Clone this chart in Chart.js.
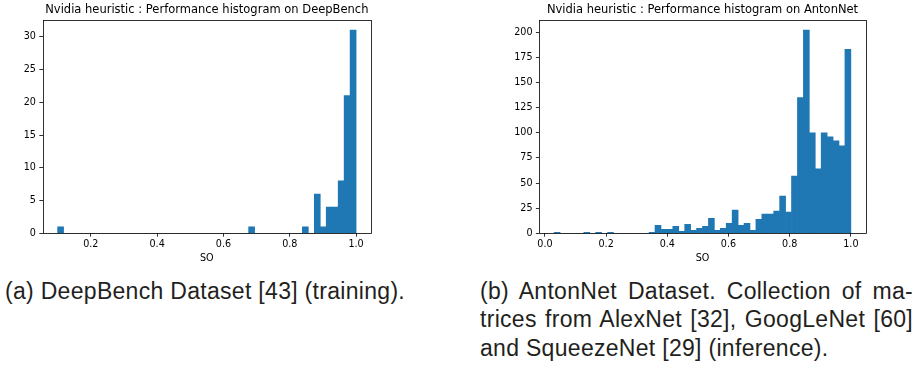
<!DOCTYPE html>
<html><head><meta charset="utf-8">
<script src="https://cdn.jsdelivr.net/npm/chart.js@4"></script>
<style>
html,body{margin:0;padding:0;background:#fff;}
body{width:919px;height:366px;position:relative;overflow:hidden;}
canvas{position:absolute;top:0;}
#ca{left:0;}
#cb{left:490px;}
.cap{position:absolute;font-family:"Liberation Sans",Arial,Helvetica,sans-serif;font-size:23px;letter-spacing:0.3px;color:#231f20;white-space:nowrap;}
#capA{left:5px;top:279.3px;line-height:24px;}
#capB{left:480px;top:276.6px;width:433px;line-height:28.7px;}
#capB div{white-space:nowrap;}
#capB .j{text-align:justify;text-align-last:justify;white-space:normal;}
</style></head><body>
<canvas id="ca" width="380" height="270"></canvas>
<canvas id="cb" width="380" height="270"></canvas>
<div class="cap" id="capA">(a) DeepBench Dataset [43] (training).</div>
<div class="cap" id="capB">
<div class="j">(b) AntonNet Dataset. Collection of ma-</div>
<div class="j">trices from AlexNet [32], GoogLeNet [60]</div>
<div>and SqueezeNet [29] (inference).</div>
</div>
<script>
// ---- data ----
const deepBenchTitle = "Nvidia heuristic : Performance histogram on DeepBench";
const antonNetTitle = "Nvidia heuristic : Performance histogram on AntonNet";
const xAxisLabel = "SO";

// DeepBench: 50 bins starting at 0.10, width 0.018
const deepBenchBinStart = 0.10;
const deepBenchBinWidth = 0.018;
const deepBenchCounts = [
  1,0,0,0,0,0,0,0,0,0,
  0,0,0,0,0,0,0,0,0,0,
  0,0,0,0,0,0,0,0,0,0,
  0,0,1,0,0,0,0,0,0,0,
  0,1,0,6,1,4,4,8,21,31
];
const deepBenchXTicks = [0.2, 0.4, 0.6, 0.8, 1.0];
const deepBenchYTicks = [0, 5, 10, 15, 20, 25, 30];

// AntonNet: 50 bins starting at 0.03, width 0.0194
const antonNetBinStart = 0.03;
const antonNetBinWidth = 0.0194;
const antonNetCounts = [
  1,0,0,0,0,1,0,1,0,1,
  0,0,0,0,0,0,1,8,4,4,
  7,2,9,3,5,7,15,3,5,10,
  23,8,10,3,14,19,19,22,37,21,
  57,135,202,100,64,100,96,92,87,183
];
const antonNetXTicks = [0.0, 0.2, 0.4, 0.6, 0.8, 1.0];
const antonNetYTicks = [0, 25, 50, 75, 100, 125, 150, 175, 200];

// ---- drawing ----
const BAR = '#1f77b4';
const TICK_FONT = {family: 'DejaVu Sans', size: 9.6, lineHeight: 1.2};

const framePlugin = {
  id: 'frame',
  afterDraw(chart) {
    const a = chart.chartArea, c = chart.ctx;
    c.save();
    c.strokeStyle = '#000';
    c.lineWidth = 0.8;
    c.strokeRect(Math.round(a.left) + 0.5, Math.round(a.top) + 0.5,
                 Math.round(a.right) - Math.round(a.left), Math.round(a.bottom) - Math.round(a.top));
    c.restore();
  }
};

function makeHist(id, title, binStart, binWidth, counts, xTicks, yTicks, opts) {
  const n = counts.length;
  const lo = binStart, hi = binStart + binWidth * n;
  const margin = (hi - lo) * 0.05;
  const ymax = Math.max(...counts) * 1.05;
  const pts = counts.map((v, i) => ({x: binStart + binWidth * (i + 0.5), y: v}));
  new Chart(document.getElementById(id), {
    type: 'bar',
    data: {datasets: [{data: pts, backgroundColor: BAR, borderWidth: 0,
                       barPercentage: 1.0, categoryPercentage: 1.0}]},
    options: {
      responsive: false, animation: false, devicePixelRatio: 1,
      layout: {padding: {left: 0, right: opts.rightPad, top: 0, bottom: 0}},
      plugins: {
        legend: {display: false}, tooltip: {enabled: false},
        title: {display: true, text: title, fullSize: false, color: '#000',
                font: {family: 'DejaVu Sans', size: 11.5, weight: 'normal', lineHeight: 1.2},
                padding: {top: 3.1, bottom: 3.1}}
      },
      scales: {
        x: {
          type: 'linear', offset: false, min: lo - margin, max: hi + margin,
          grid: {display: true, drawOnChartArea: false, drawTicks: true, tickLength: 3.4,
                 color: '#000', lineWidth: 0.8, offset: false},
          border: {display: false},
          ticks: {autoSkip: false, maxRotation: 0, padding: 2, color: '#000', font: TICK_FONT,
                  callback: v => v.toFixed(1)},
          afterBuildTicks: s => { s.ticks = xTicks.map(v => ({value: v})); },
          afterFit: s => { s.height = 36.7; },
          title: {display: true, text: xAxisLabel, color: '#000', font: TICK_FONT,
                  padding: {top: 0, bottom: 6.2}}
        },
        y: {
          type: 'linear', min: 0, max: ymax,
          grid: {display: true, drawOnChartArea: false, drawTicks: true, tickLength: 3.4,
                 color: '#000', lineWidth: 0.8},
          border: {display: false},
          ticks: {autoSkip: false, padding: 3.4, color: '#000', font: TICK_FONT,
                  callback: v => String(v)},
          afterBuildTicks: s => { s.ticks = yTicks.map(v => ({value: v})); },
          afterFit: s => { s.width = opts.yWidth; }
        }
      }
    },
    plugins: [framePlugin]
  });
}

makeHist('ca', deepBenchTitle, deepBenchBinStart, deepBenchBinWidth, deepBenchCounts,
         deepBenchXTicks, deepBenchYTicks, {yWidth: 42.7, rightPad: 9});
makeHist('cb', antonNetTitle, antonNetBinStart, antonNetBinWidth, antonNetCounts,
         antonNetXTicks, antonNetYTicks, {yWidth: 49.3, rightPad: 4.3});
</script>
</body></html>
